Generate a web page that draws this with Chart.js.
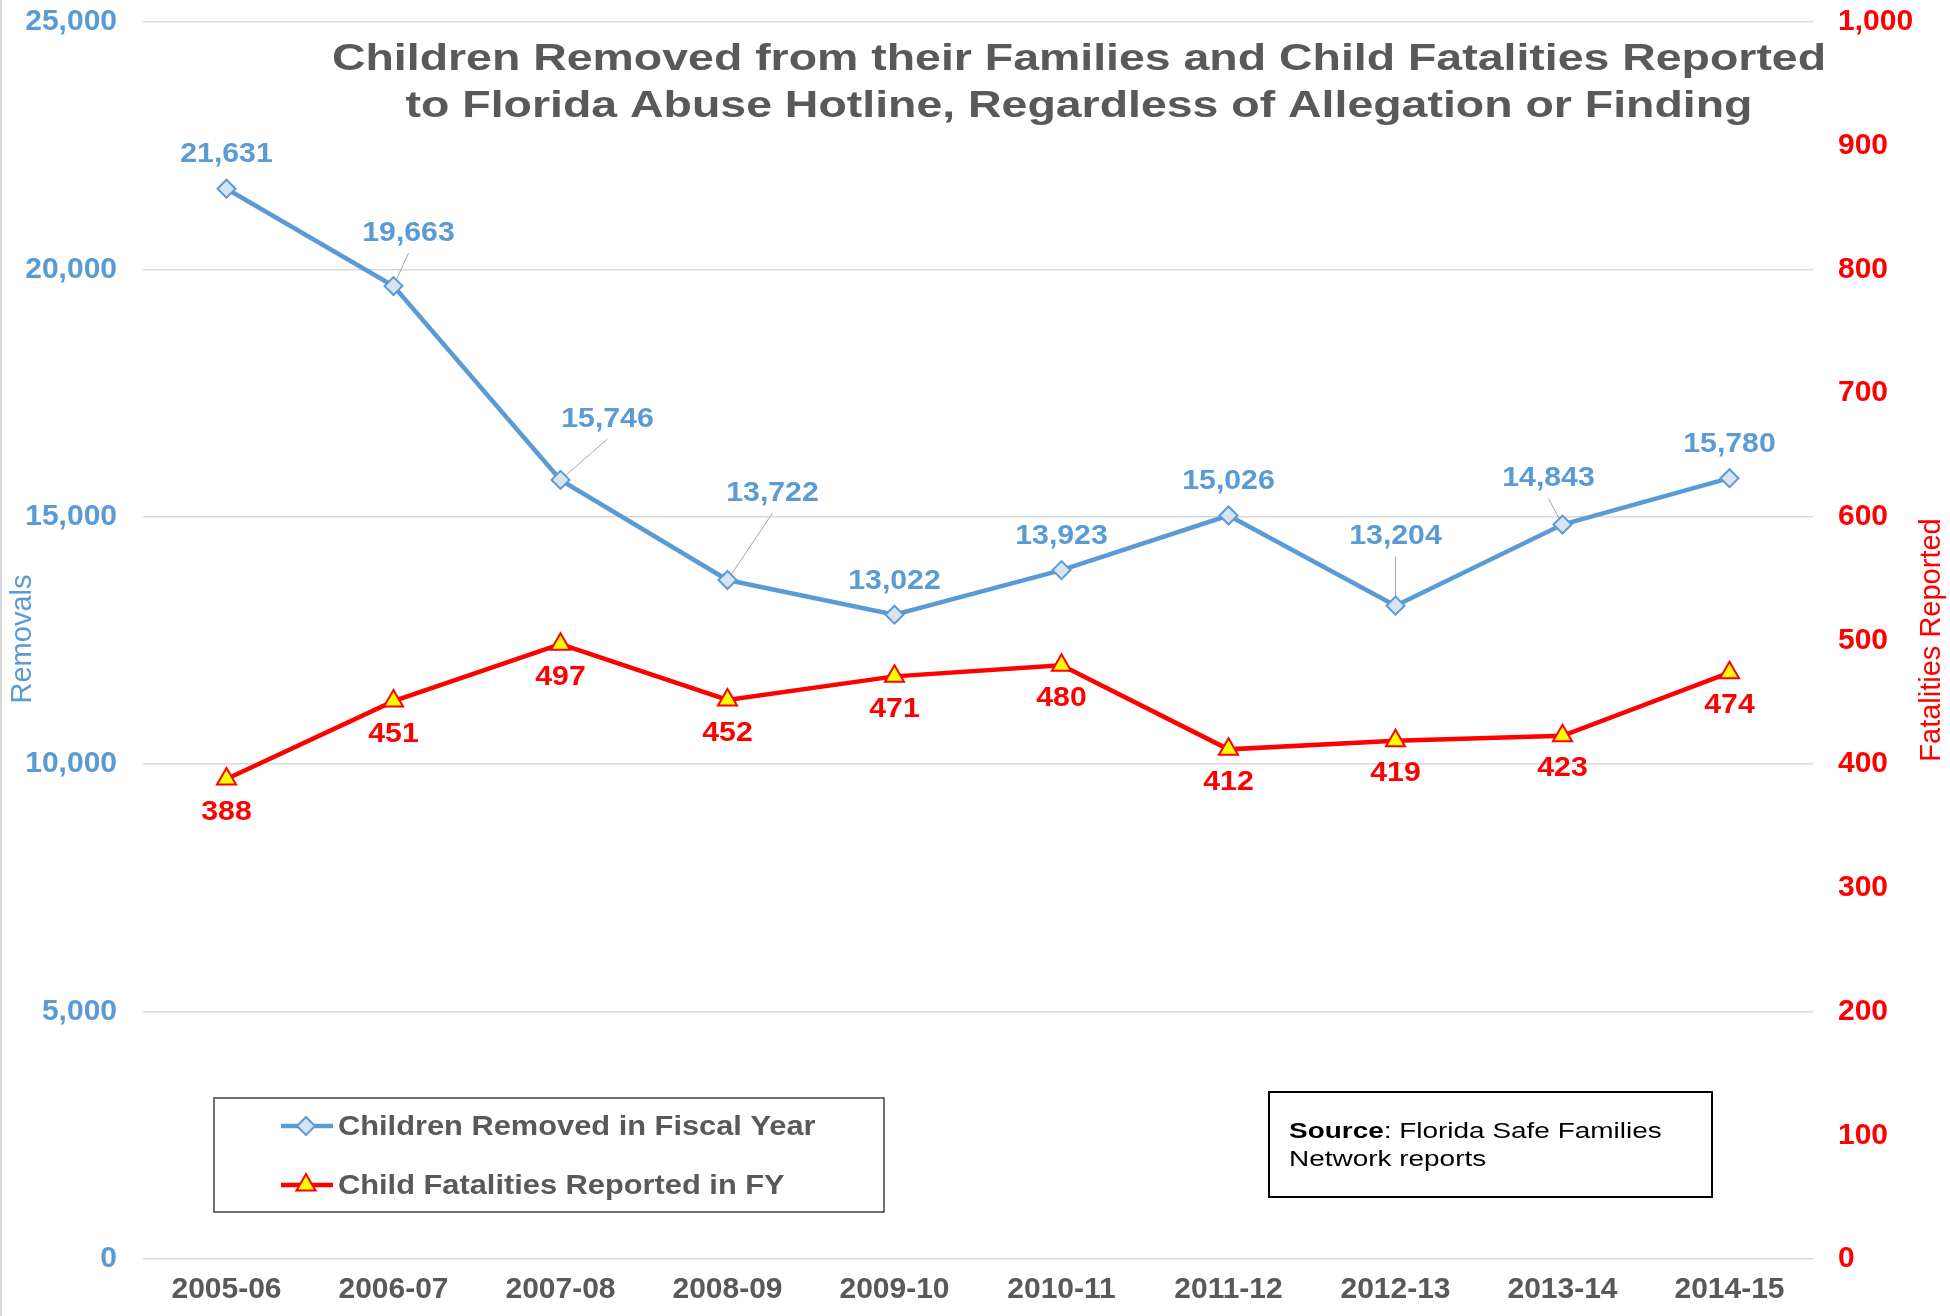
<!DOCTYPE html>
<html>
<head>
<meta charset="utf-8">
<title>Children Removed and Child Fatalities - Florida</title>
<script src="https://cdn.jsdelivr.net/npm/chart.js@4/dist/chart.umd.min.js"></script>
<style>
  html, body { margin: 0; padding: 0; background: #fff; }
  #wrap { width: 1950px; height: 1316px; position: relative; }
</style>
</head>
<body>
<div id="wrap"><canvas id="chart"></canvas></div>
<script>
// fiscal years on the x axis
const years = ["2005-06","2006-07","2007-08","2008-09","2009-10","2010-11","2011-12","2012-13","2013-14","2014-15"];

// children removed (left axis)
const removals = [21631, 19663, 15746, 13722, 13022, 13923, 15026, 13204, 14843, 15780];

// child fatalities reported (right axis)
const fatalities = [388, 451, 497, 452, 471, 480, 412, 419, 423, 474];

// axis ranges / steps
const removalsAxis = { min: 0, max: 25000, step: 5000 };
const fatalitiesAxis = { min: 0, max: 1000, step: 100 };

const titleLines = [
  "Children Removed from their Families and Child Fatalities Reported",
  "to Florida Abuse Hotline, Regardless of Allegation or Finding"
];
const seriesNames = ["Children Removed in Fiscal Year", "Child Fatalities Reported in FY"];

// label placement (pixel offsets from the point) and leader-line flags
const removedLabelOffset = [[0,-34],[15,-53],[47,-61],[45,-87],[0,-33],[0,-34],[0,-34],[0,-69],[-14,-46],[0,-34]];
const removedLeader = [false,true,true,true,false,false,false,true,true,false];
const fatalLabelOffset = [0, 33];

const BLUE = "#5B9BD5";
const RED = "#FF0000";
const GREY_TEXT = "#595959";
const FONT = "'Liberation Sans', Arial, sans-serif";

Chart.defaults.font.family = FONT;

const fmt = (v) => Number(v).toLocaleString("en-US");

// draw text stretched horizontally
function wideText(ctx, text, x, y, sx, align){
  ctx.save();
  ctx.translate(x, y);
  ctx.scale(sx, 1);
  ctx.textAlign = align || "center";
  ctx.fillText(text, 0, 0);
  ctx.restore();
}

function drawMarkerPath(ctx, style, r, x, y){
  if (style === "rectRot"){
    ctx.moveTo(x, y - r);
    ctx.lineTo(x + r, y);
    ctx.lineTo(x, y + r);
    ctx.lineTo(x - r, y);
    ctx.closePath();
  } else {
    const a = Math.PI * 2 / 3;
    ctx.moveTo(x, y - r);
    ctx.lineTo(x + Math.sin(a) * r, y - Math.cos(a) * r);
    ctx.lineTo(x - Math.sin(a) * r, y - Math.cos(a) * r);
    ctx.closePath();
  }
}

// value axes: fixed width, no extra top/bottom padding for the end labels
const fixAxis = (w) => (scale) => {
  scale.width = w;
  scale.paddingTop = 0;
  scale.paddingBottom = 0;
};

const decorations = {
  id: "decorations",
  beforeDatasetsDraw(chart){
    // leader lines sit under the markers
    const ctx = chart.ctx;
    const meta = chart.getDatasetMeta(0);
    ctx.save();
    ctx.strokeStyle = "#A6A6A6";
    ctx.lineWidth = 1;
    meta.data.forEach((pt, i) => {
      if (!removedLeader[i]) return;
      const [dx, dy] = removedLabelOffset[i];
      ctx.beginPath();
      ctx.moveTo(pt.x + dx, pt.y + dy + 20);
      ctx.lineTo(pt.x, pt.y);
      ctx.stroke();
    });
    ctx.restore();
  },
  afterDatasetsDraw(chart){
    const ctx = chart.ctx;
    ctx.save();
    ctx.textBaseline = "middle";

    // data labels
    ctx.font = "bold 28px " + FONT;
    ctx.fillStyle = BLUE;
    chart.getDatasetMeta(0).data.forEach((pt, i) => {
      const [dx, dy] = removedLabelOffset[i];
      wideText(ctx, fmt(removals[i]), pt.x + dx, pt.y + dy, 1.08, "center");
    });
    ctx.fillStyle = RED;
    chart.getDatasetMeta(1).data.forEach((pt, i) => {
      wideText(ctx, fmt(fatalities[i]), pt.x + fatalLabelOffset[0], pt.y + fatalLabelOffset[1], 1.08, "center");
    });

    // title
    ctx.textBaseline = "alphabetic";
    ctx.font = "bold 36px " + FONT;
    ctx.fillStyle = GREY_TEXT;
    wideText(ctx, titleLines[0], 1079, 70, 1.29, "center");
    wideText(ctx, titleLines[1], 1079, 117, 1.29, "center");

    // axis titles
    ctx.textBaseline = "middle";
    ctx.font = "29px " + FONT;
    ctx.textAlign = "center";
    ctx.fillStyle = BLUE;
    ctx.save();
    ctx.translate(23, 639);
    ctx.rotate(-Math.PI / 2);
    ctx.fillText("Removals", 0, 0);
    ctx.restore();
    ctx.fillStyle = RED;
    ctx.save();
    ctx.translate(1932, 640);
    ctx.rotate(-Math.PI / 2);
    ctx.fillText("Fatalities Reported", 0, 0);
    ctx.restore();

    // legend box
    ctx.strokeStyle = "#404040";
    ctx.lineWidth = 1.5;
    ctx.strokeRect(214, 1098, 670, 114);
    const rows = [1126, 1185];
    chart.data.datasets.forEach((ds, i) => {
      const y = rows[i];
      ctx.strokeStyle = ds.borderColor;
      ctx.lineWidth = ds.borderWidth;
      ctx.beginPath();
      ctx.moveTo(281, y);
      ctx.lineTo(333, y);
      ctx.stroke();
      ctx.fillStyle = ds.pointBackgroundColor;
      ctx.strokeStyle = ds.pointBorderColor;
      ctx.lineWidth = ds.pointBorderWidth;
      ctx.beginPath();
      drawMarkerPath(ctx, ds.pointStyle, ds.pointRadius, 306, y);
      ctx.fill();
      ctx.stroke();
      ctx.fillStyle = GREY_TEXT;
      ctx.font = "bold 28px " + FONT;
      wideText(ctx, seriesNames[i], 338, y + 1, 1.1, "left");
    });

    // source note
    ctx.strokeStyle = "#000";
    ctx.lineWidth = 2;
    ctx.strokeRect(1269, 1092, 443, 105);
    ctx.fillStyle = "#000";
    ctx.font = "bold 22px " + FONT;
    const sx = 1.27;
    const bw = ctx.measureText("Source").width * sx;
    wideText(ctx, "Source", 1289, 1132, sx, "left");
    ctx.font = "22px " + FONT;
    wideText(ctx, ": Florida Safe Families", 1289 + bw, 1132, sx, "left");
    wideText(ctx, "Network reports", 1289, 1160, sx, "left");

    // thin frame line on the left edge
    ctx.strokeStyle = "#D9D9D9";
    ctx.lineWidth = 2;
    ctx.beginPath();
    ctx.moveTo(1, 0);
    ctx.lineTo(1, 1316);
    ctx.stroke();

    ctx.restore();
  }
};

const tickFont = { size: 30, weight: "bold" };

new Chart(document.getElementById("chart"), {
  type: "line",
  data: {
    labels: years,
    datasets: [
      {
        label: seriesNames[0],
        data: removals,
        yAxisID: "yRemovals",
        borderColor: BLUE,
        borderWidth: 4.5,
        pointStyle: "rectRot",
        pointRadius: 9,
        pointBorderWidth: 2,
        pointBackgroundColor: "#D9E4F3",
        pointBorderColor: BLUE,
        tension: 0
      },
      {
        label: seriesNames[1],
        data: fatalities,
        yAxisID: "yFatal",
        borderColor: RED,
        borderWidth: 4.5,
        pointStyle: "triangle",
        pointRadius: 11,
        pointBorderWidth: 2,
        pointBackgroundColor: "#FFFF00",
        pointBorderColor: RED,
        tension: 0
      }
    ]
  },
  options: {
    responsive: true,
    maintainAspectRatio: false,
    animation: false,
    events: [],
    layout: { padding: { top: 22, left: 0, right: 0, bottom: 0 } },
    plugins: {
      legend: { display: false },
      title: { display: false },
      tooltip: { enabled: false }
    },
    scales: {
      x: {
        offset: true,
        grid: { display: false, drawTicks: false },
        border: { display: false },
        ticks: { color: GREY_TEXT, font: tickFont, padding: 13, maxRotation: 0 },
        afterFit(scale){ scale.height = 57; }
      },
      yRemovals: {
        position: "left",
        min: removalsAxis.min,
        max: removalsAxis.max,
        grid: { color: "#D9D9D9", lineWidth: 1.5, drawTicks: false },
        border: { display: false },
        ticks: { stepSize: removalsAxis.step, color: BLUE, font: tickFont, padding: 26, callback: (v) => fmt(v) },
        afterFit: fixAxis(143)
      },
      yFatal: {
        position: "right",
        min: fatalitiesAxis.min,
        max: fatalitiesAxis.max,
        grid: { display: false, drawTicks: false },
        border: { display: false },
        ticks: { stepSize: fatalitiesAxis.step, color: RED, font: tickFont, padding: 25, callback: (v) => fmt(v) },
        afterFit: fixAxis(137)
      }
    }
  },
  plugins: [decorations]
});
</script>
</body>
</html>
